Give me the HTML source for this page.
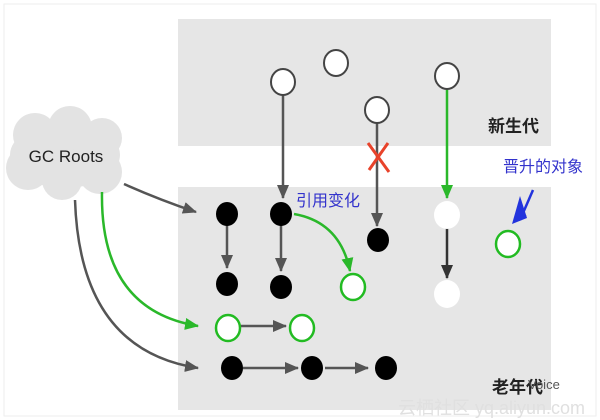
<!DOCTYPE html>
<html><head><meta charset="utf-8"><style>
html,body{margin:0;padding:0;background:#fff;width:600px;height:420px;overflow:hidden}
text{font-family:"Liberation Sans","Noto Sans CJK SC",sans-serif}
</style></head><body>
<svg width="600" height="420" viewBox="0 0 600 420" xmlns="http://www.w3.org/2000/svg">
<defs>
<marker id="ag" markerWidth="8" markerHeight="8" refX="7" refY="4" orient="auto" markerUnits="userSpaceOnUse"><path d="M0,0 L12,4 L0,8z" fill="#555" transform="scale(0.7,1)"/></marker>
<marker id="gr" markerWidth="14" markerHeight="12" refX="13" refY="6" orient="auto" markerUnits="userSpaceOnUse"><path d="M0,0 L14,6 L0,12z" fill="#555"/></marker>
<marker id="gn" markerWidth="14" markerHeight="12" refX="13" refY="6" orient="auto" markerUnits="userSpaceOnUse"><path d="M0,0 L14,6 L0,12z" fill="#2ab82a"/></marker>
<marker id="bk" markerWidth="14" markerHeight="12" refX="13" refY="6" orient="auto" markerUnits="userSpaceOnUse"><path d="M0,0 L14,6 L0,12z" fill="#333"/></marker>
</defs>
<rect x="4" y="4" width="592" height="412" fill="none" stroke="#eee"/>
<rect x="178" y="19" width="373" height="127" fill="#e6e6e6"/>
<rect x="178" y="187" width="373" height="223" fill="#e6e6e6"/>
<g fill="#e3e3e3">
<ellipse cx="65" cy="155" rx="55" ry="33"/>
<circle cx="35" cy="135" r="22"/><circle cx="70" cy="128" r="22"/><circle cx="102" cy="138" r="20"/>
<circle cx="28" cy="168" r="22"/><circle cx="62" cy="180" r="20"/><circle cx="100" cy="172" r="22"/>
</g>
<text x="66" y="162" font-size="17" text-anchor="middle" fill="#222">GC Roots</text>
<g fill="none" stroke-width="2.5">
<path d="M124,184 Q160,200 196,212" stroke="#555" marker-end="url(#gr)"/>
<path d="M102,192 Q100,310 198,326" stroke="#2ab82a" marker-end="url(#gn)"/>
<path d="M75,200 Q80,350 198,368" stroke="#555" marker-end="url(#gr)"/>
<path d="M227,225 L227,268" stroke="#555" marker-end="url(#gr)"/>
<path d="M281,225 L281,271" stroke="#555" marker-end="url(#gr)"/>
<path d="M283,93 L283,198" stroke="#555" marker-end="url(#gr)"/>
<path d="M377,121 L377,226" stroke="#555" marker-end="url(#gr)"/>
<path d="M447,85 L447,198" stroke="#2ab82a" marker-end="url(#gn)"/>
<path d="M447,225 L447,278" stroke="#333" marker-end="url(#bk)"/>
<path d="M294,214 Q340,222 350,271" stroke="#2ab82a" marker-end="url(#gn)"/>
<path d="M240,326 L286,326" stroke="#555" marker-end="url(#gr)"/>
<path d="M243,368 L298,368" stroke="#555" marker-end="url(#gr)"/>
<path d="M325,368 L368,368" stroke="#555" marker-end="url(#gr)"/>
<path d="M533,190 L520,220" stroke="#2233dd" marker-end="url(#ag)"/>
</g>
<path d="M520,196 L512,224 L527,218z" fill="#2233dd"/>
<path d="M368,143 L389,172 M369,170 L388,143" stroke="#e8432b" stroke-width="3" fill="none"/>
<g fill="#fff" stroke="#444" stroke-width="2">
<ellipse cx="283" cy="82" rx="12" ry="13"/><ellipse cx="336" cy="63" rx="12" ry="13"/>
<ellipse cx="377" cy="110" rx="12" ry="13"/><ellipse cx="447" cy="76" rx="12" ry="13"/>
</g>
<g fill="#000">
<ellipse cx="227" cy="214" rx="11" ry="12"/><ellipse cx="281" cy="214" rx="11" ry="12"/>
<ellipse cx="378" cy="240" rx="11" ry="12"/><ellipse cx="227" cy="284" rx="11" ry="12"/>
<ellipse cx="281" cy="287" rx="11" ry="12"/><ellipse cx="232" cy="368" rx="11" ry="12"/>
<ellipse cx="312" cy="368" rx="11" ry="12"/><ellipse cx="386" cy="368" rx="11" ry="12"/>
</g>
<g fill="#fff" stroke="#22bb22" stroke-width="2.5">
<ellipse cx="353" cy="287" rx="12" ry="13"/><ellipse cx="228" cy="328" rx="12" ry="13"/>
<ellipse cx="302" cy="328" rx="12" ry="13"/><ellipse cx="508" cy="244" rx="12" ry="13"/>
</g>
<ellipse cx="447" cy="215" rx="13" ry="14" fill="#fff"/>
<ellipse cx="447" cy="294" rx="13" ry="14" fill="#fff"/>
<text x="488" y="132" font-size="17" font-weight="bold" fill="#222">新生代</text>
<text x="503" y="172" font-size="16" fill="#3333cc">晋升的对象</text>
<text x="296" y="206" font-size="16" fill="#3333cc">引用变化</text>
<text x="492" y="393" font-size="17" font-weight="bold" fill="#222">老年代</text>
<text x="528" y="389" font-size="13" fill="#555">Voice</text>
<text x="398" y="414" font-size="18" fill="#e0e0e0">云栖社区 yq.aliyun.com</text>
</svg>
</body></html>
